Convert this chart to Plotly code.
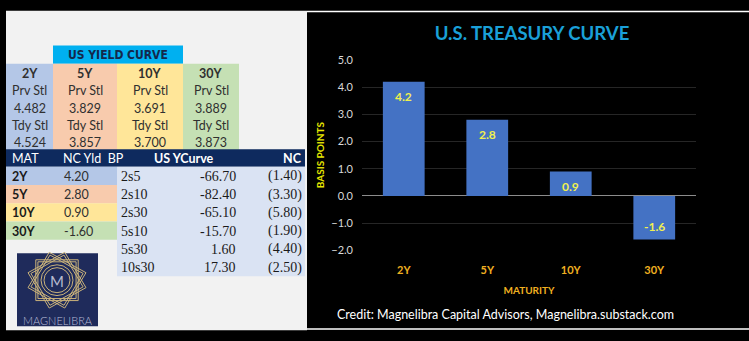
import math
import plotly.graph_objects as go

W, H = 749, 341

# ---------------- data ----------------
maturities = ["2Y", "5Y", "10Y", "30Y"]
prv_stl = [4.482, 3.829, 3.691, 3.889]
tdy_stl = [4.524, 3.857, 3.700, 3.873]
nc_bp = [4.20, 2.80, 0.90, -1.60]
curve_labels = ["2s5", "2s10", "2s30", "5s10", "5s30", "10s30"]
curve_values = [-66.70, -82.40, -65.10, -15.70, 1.60, 17.30]
curve_nc = [-1.40, -3.30, -5.80, -1.90, -4.40, -2.50]
y_ticks = [-2, -1, 0, 1, 2, 3, 4, 5]

# ---------------- helpers ----------------
def px(x):
    return x / W


def py(y):
    return 1 - y / H


SANS = "Lato, 'Open Sans', sans-serif"
SERIF = "'Liberation Serif', 'DejaVu Serif', serif"
COND = "'Liberation Sans Narrow', 'DejaVu Sans Condensed', sans-serif"

col_colors = ["#b4c7e7", "#f8cbad", "#ffe699", "#c5e0b4"]
col_edges = [6, 53, 117, 183, 239]

shapes = []
annotations = []


def rect(x0, y0, x1, y1, color, layer="below"):
    shapes.append(dict(type="rect", xref="paper", yref="paper",
                       x0=px(x0), x1=px(x1), y0=py(y1), y1=py(y0),
                       fillcolor=color, line=dict(width=0), layer=layer))


def text(x, y, s, size=12, color="#262626", anchor="center", family=SANS,
         weight="normal", **kw):
    annotations.append(dict(xref="paper", yref="paper", x=px(x), y=py(y),
                            text=s, showarrow=False, xanchor=anchor,
                            yanchor="middle",
                            font=dict(size=size, color=color, family=family,
                                      weight=weight), **kw))


def fmt_nc(v):
    return f"({abs(v):.2f})" if v < 0 else f"{v:.2f}"


# ---------------- panels ----------------
rect(6, 4, 307, 336, "#f2f2f2")
rect(307, 4, 749, 5.5, "#ffffff")
rect(307, 334, 749, 335.5, "#ffffff")

# ---------------- top table ----------------
rect(53, 40, 183, 59, "#00b0f0")
text(118, 49.5, "<b>US YIELD CURVE</b>", size=12, color="#14284b", family=COND)

for i, m in enumerate(maturities):
    x0, x1 = col_edges[i], col_edges[i + 1]
    rect(x0, 59, x1, 148.5, col_colors[i])
    cx = (x0 + x1) / 2
    rows = [f"<b>{m}</b>", "Prv Stl", f"{prv_stl[i]:.3f}", "Tdy Stl",
            f"{tdy_stl[i]:.3f}"]
    for r, s in enumerate(rows):
        text(cx, 69.5 + 17.8 * r, s, size=12.5, color="#303030")

# ---------------- navy header ----------------
rect(6, 148, 305, 166, "#0e2a5e")
text(10, 157.5, "MAT", size=12.5, color="#ffffff", anchor="left")
text(61, 157.5, "NC Yld&nbsp;&nbsp;BP", size=12.5, color="#ffffff", anchor="left")
text(152, 157.5, "<b>US YCurve</b>", size=12.5, color="#ffffff", anchor="left")
text(304, 157.5, "<b>NC</b>", size=12.5, color="#ffffff", anchor="right")

# ---------------- lower-left table ----------------
for i, m in enumerate(maturities):
    y0 = 166 + 19 * i
    rect(6, y0, 117, y0 + 19, col_colors[i])
    text(10, y0 + 10, f"<b>{m}</b>", size=12.5, color="#1a1a1a", anchor="left")
    text(62, y0 + 10, f"{nc_bp[i]:.2f}", size=12.5, color="#303030", anchor="left")

# ---------------- curve table ----------------
rect(117, 166, 305, 166 + 19 * len(curve_labels), "#dae3f3")
for i, lab in enumerate(curve_labels):
    yc = 166 + 19 * i + 10
    text(119, yc, lab, size=14, color="#1a1a1a", anchor="left", family=SERIF)
    text(238, yc, f"{curve_values[i]:.2f}", size=14, color="#1a1a1a",
         anchor="right", family=SERIF)
    text(304, yc, fmt_nc(curve_nc[i]), size=14, color="#1a1a1a",
         anchor="right", family=SERIF)

# ---------------- logo ----------------
rect(17, 256, 98, 332, "#1f2b5b", layer="above")
cx, cy = 57, 284
gold = "#c9b27a"
for r in (30, 27):
    for a0 in (0, 30, 60):
        pts = []
        for k in range(4):
            a = math.radians(a0 + 45 + 90 * k)
            pts.append((px(cx + r * math.cos(a)), py(cy + r * math.sin(a))))
        path = "M " + " L ".join(f"{x:.5f},{y:.5f}" for x, y in pts) + " Z"
        shapes.append(dict(type="path", xref="paper", yref="paper", path=path,
                           line=dict(color=gold, width=1), layer="above"))
for r in (16, 13):
    shapes.append(dict(type="circle", xref="paper", yref="paper",
                       x0=px(cx - r), x1=px(cx + r), y0=py(cy + r), y1=py(cy - r),
                       line=dict(color=gold, width=1), layer="above"))
text(cx, cy + 1, "M", size=15, color="#b8bcd0", family=SANS)
text(57.5, 326, "MAGNELIBRA", size=11, color="#b8bcd8", family=SANS,
     weight=300)

# ---------------- bar chart ----------------
fig = go.Figure()
fig.add_trace(go.Bar(x=maturities, y=nc_bp, marker=dict(color="#4472c4",
                                                        line=dict(width=0)),
                     hoverinfo="skip"))

for m, v in zip(maturities, nc_bp):
    annotations.append(dict(xref="x", yref="y", x=m, y=v, text=f"<b>{v:.1f}</b>",
                            showarrow=False, yanchor="middle",
                            yshift=-15 if v > 0 else 13,
                            font=dict(size=12, color="#f0f050", family=SANS)))

annotations.append(dict(xref="paper", yref="paper", x=px(505), y=py(320),
                        text="Credit: Magnelibra Capital Advisors, Magnelibra.substack.com",
                        showarrow=False, xanchor="center", yanchor="middle",
                        font=dict(size=12.5, color="#ffffff", family=SANS)))

fig.update_layout(
    width=W, height=H,
    margin=dict(l=0, r=0, t=0, b=0),
    paper_bgcolor="#000000",
    plot_bgcolor="rgba(0,0,0,0)",
    showlegend=False,
    bargap=0.5,
    title=dict(text="<b>U.S. TREASURY CURVE</b>", x=px(532), y=py(28),
               xanchor="center", yanchor="middle", xref="paper", yref="paper",
               font=dict(size=18.5, color="#1aa0d8", family=SANS)),
    xaxis=dict(domain=[px(362), px(696)], showgrid=False, showline=False,
               zeroline=False, ticks="",
               tickfont=dict(size=11, color="#f0b020", family=SANS,
                             weight="bold"),
               ticklabelstandoff=12,
               title=dict(text="<b>MATURITY</b>", standoff=11,
                          font=dict(size=10, color="#f0b020", family=SANS))),
    yaxis=dict(domain=[py(253), py(55)], range=[-2, 5], tickvals=y_ticks,
               tickformat=".1f", showgrid=True, gridcolor="#262626",
               gridwidth=1, zeroline=True, zerolinecolor="#8c8c8c",
               zerolinewidth=1, showline=False, ticks="",
               tickfont=dict(size=11, color="#d9d9d9", family=SANS),
               ticklabelstandoff=8,
               title=dict(text="<b>BASIS POINTS</b>", standoff=4,
                          font=dict(size=10, color="#e6e600", family=SANS))),
    shapes=shapes,
    annotations=annotations,
)

fig.write_html("out.html")
